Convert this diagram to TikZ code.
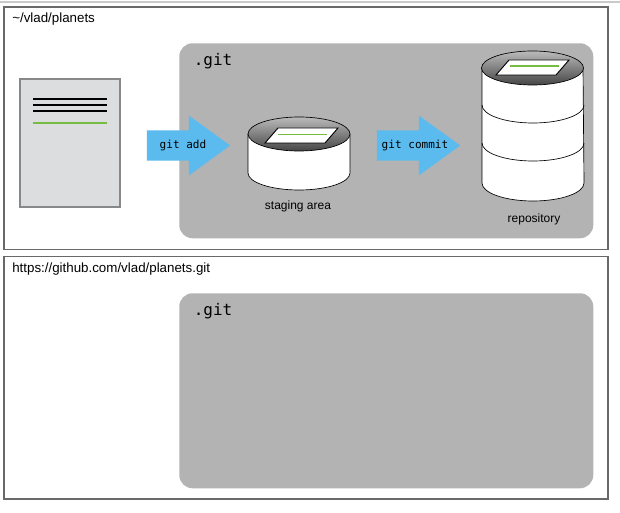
\documentclass[tikz,border=0pt]{standalone}
\usepackage{fontspec}
\setmainfont{Liberation Sans}
\setmonofont{DejaVu Sans Mono}
\usetikzlibrary{shapes.geometric, shapes.arrows, positioning}
\definecolor{FrameGray}{RGB}{105, 105, 105}
\definecolor{PanelGray}{RGB}{179, 179, 179}
\definecolor{DocGray}{RGB}{220, 221, 223}
\definecolor{DocEdge}{RGB}{135, 136, 138}
\definecolor{ArrowBlue}{RGB}{91, 187, 238}
\definecolor{LineGreen}{RGB}{118, 188, 67}
\definecolor{DiskDark}{RGB}{70, 70, 70}

\begin{document}
\begin{tikzpicture}[
        x=0.75pt, y=-0.75pt,
        framebox/.style={rectangle, draw=FrameGray, fill=white, line width=1.3pt, inner sep=0pt, anchor=north west, minimum width=453pt, minimum height=182pt},
        panelbox/.style={rectangle, fill=PanelGray, rounded corners=10pt, inner sep=0pt, anchor=north west, minimum width=310.5pt, minimum height=146.25pt},
        docbox/.style={rectangle, draw=DocEdge, fill=DocGray, line width=1.5pt, inner sep=0pt, anchor=north west, minimum width=75pt, minimum height=96pt},
        pathlabel/.style={inner sep=0pt, anchor=west, font=\fontsize{10pt}{12pt}\selectfont},
        gitlabel/.style={inner sep=0pt, anchor=west, font=\fontsize{12pt}{14pt}\ttfamily},
        cmdarrow/.style={single arrow, fill=ArrowBlue, inner sep=0pt, inner ysep=7pt, minimum height=62.5pt, minimum width=45pt, single arrow head extend=11pt, single arrow head indent=0pt, single arrow tip angle=72, font=\fontsize{8.3pt}{10pt}\ttfamily},
        cyllabel/.style={inner sep=0pt, font=\fontsize{9pt}{11pt}\selectfont},
        cylbody/.style={draw=black, fill=white, line width=0.5pt},
        cyltop/.style={ellipse, draw=black, line width=0.5pt, inner sep=0pt, top color=PanelGray!90!white, bottom color=DiskDark, minimum width=76.5pt, minimum height=25.5pt},
        slipsheet/.style={draw=black, fill=white, line width=0.7pt},
        greenline/.style={draw=LineGreen, line width=1.1pt},
        textline/.style={draw=black, line width=1.1pt}
      ]
        \useasboundingbox (0,0) rectangle (620,513);
        \draw[PanelGray!70!white, line width=0.8pt] (0,2) -- (620,2);

        % Box 1: local repository
        \node[framebox] (localbox) at (3,6) {};
        \node[pathlabel] (localpath) at (12,19) {\textasciitilde/vlad/planets};
        \node[panelbox] (localgit) at (179,43) {};
        \node[gitlabel] (localgitname) at (193.5,61) {.git};

        % Working file
        \node[docbox] (workfile) at (18.5,78.5) {};
        \draw[textline] (33,99) -- (107,99);
        \draw[textline] (33,105) -- (107,105);
        \draw[textline] (33,111) -- (107,111);
        \draw[greenline] (33,123) -- (107,123);

        % Staging area
        \draw[cylbody] (248,134) -- (248,173) arc[x radius=51, y radius=17, start angle=180, end angle=0] -- (350,134);
        \node[cyltop] (stagingtop) at (299,134) {};
        \draw[slipsheet] (265,143) -- (278,128) -- (338,128) -- (325,143) -- cycle;
        \draw[greenline] (278,134.5) -- (327,134.5);
        \node[cyllabel] (staginglabel) at (298,206.5) {staging area};

        % Repository
        \draw[cylbody] (482,68) -- (482,183) arc[x radius=51, y radius=18, start angle=180, end angle=0] -- (583,68);
        \draw[cylbody, fill=none] (482,105) arc[x radius=51, y radius=18, start angle=180, end angle=0];
        \draw[cylbody, fill=none] (482,143) arc[x radius=51, y radius=18, start angle=180, end angle=0];
        \node[cyltop] (repotop) at (532.5,68) {};
        \draw[slipsheet] (496,75) -- (509,60) -- (569,60) -- (556,75) -- cycle;
        \draw[greenline] (510,66) -- (559,66);
        \node[cyllabel] (repolabel) at (534,219.5) {repository};

        % Arrows
        \node[cmdarrow] (addarrow) at (178,145.5) {\makebox[0pt]{\hspace*{7.5pt}git add}};
        \node[cmdarrow] (commitarrow) at (408,145.5) {\makebox[0pt]{\hspace*{10.5pt}git commit}};

        % Box 2: remote repository
        \node[framebox, below=4pt of localbox.south west, anchor=north west] (remotebox) {};
        \node[pathlabel] (remotepath) at (12,269) {https://github.com/vlad/planets.git};
        \node[panelbox] (remotegit) at (179,293) {};
        \node[gitlabel] (remotegitname) at (193.5,311) {.git};
      \end{tikzpicture}
\end{document}
